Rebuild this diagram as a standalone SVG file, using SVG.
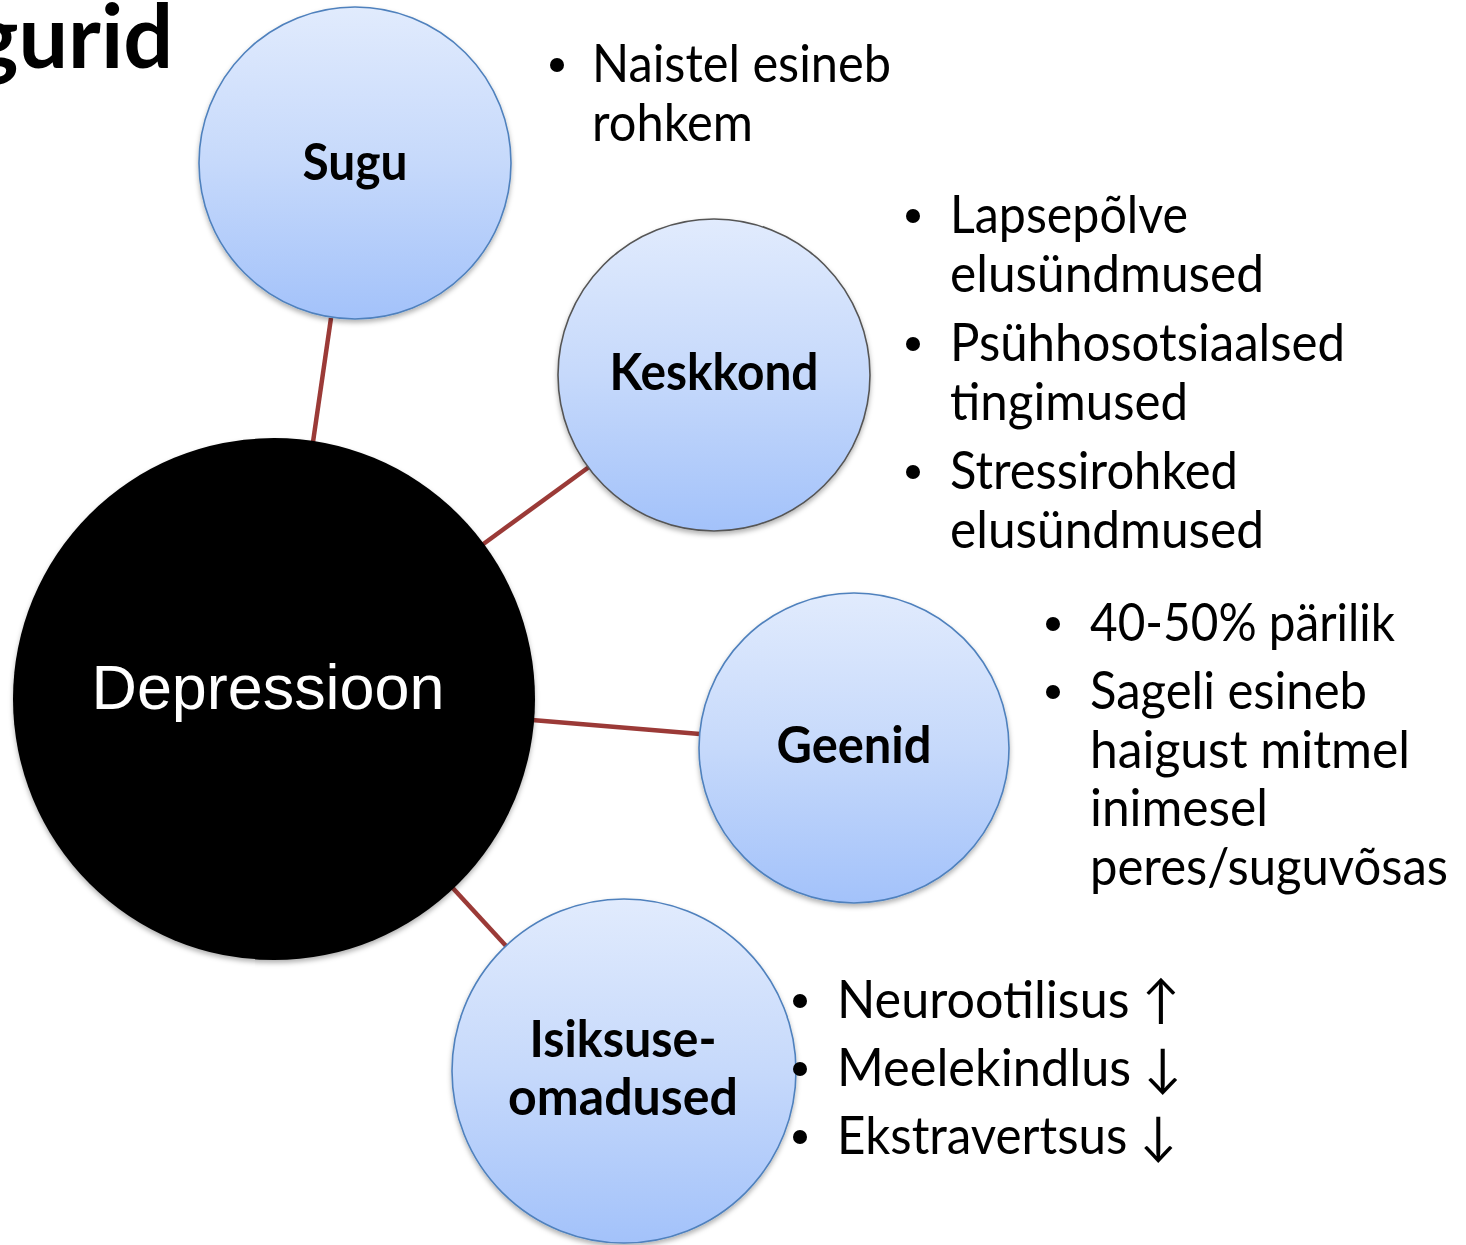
<svg xmlns="http://www.w3.org/2000/svg" width="1466" height="1245" viewBox="0 0 1466 1245">
<defs>
<linearGradient id="blueGrad" x1="0" y1="0" x2="0" y2="1">
<stop offset="0" stop-color="#E1EBFD"/>
<stop offset="0.5" stop-color="#C6D9FB"/>
<stop offset="1" stop-color="#A3C2FA"/>
</linearGradient>
<filter id="shadow" x="-10%" y="-10%" width="120%" height="125%">
<feDropShadow dx="0" dy="3" stdDeviation="2.5" flood-color="#000" flood-opacity="0.3"/>
</filter>
</defs>
<style>
.bubble{fill:url(#blueGrad);stroke:#4F81BD;stroke-width:1.6;filter:url(#shadow)}
.label{font-family:Lato,"Open Sans","Liberation Sans",sans-serif;font-weight:bold;font-size:52px;fill:#000;text-anchor:middle}
.item{font-family:Lato,"Open Sans","DejaVu Sans","Liberation Sans",sans-serif;font-size:52px;fill:#000}
.conn{stroke:#9B3A37;stroke-width:4.5;fill:none}
.dot{fill:#000}
</style>
<rect width="1466" height="1245" fill="#fff"/>
<text x="-28" y="68" font-family="Lato,'Open Sans','Liberation Sans',sans-serif" font-weight="bold" font-size="88" fill="#000">gurid</text>
<g id="connectors">
<line class="conn" x1="331" y1="318" x2="313" y2="442"/>
<line class="conn" x1="589" y1="467" x2="482" y2="545"/>
<line class="conn" x1="532" y1="720" x2="700" y2="734"/>
<line class="conn" x1="450" y1="885" x2="507" y2="947"/>
</g>
<g id="node-depressioon">
<circle cx="274" cy="699" r="261" fill="#000" filter="url(#shadow)"/>
<text x="268" y="709" font-family="'Liberation Sans',Arial,sans-serif" font-size="63" fill="#fff" text-anchor="middle" textLength="353" lengthAdjust="spacingAndGlyphs">Depressioon</text>
</g>
<g id="node-sugu">
<circle class="bubble" cx="355" cy="163" r="156"/>
<text class="label" x="355" y="180" textLength="105" lengthAdjust="spacingAndGlyphs">Sugu</text>
</g>
<g id="node-keskkond">
<circle class="bubble" cx="714" cy="375" r="156" style="stroke:#555"/>
<text class="label" x="714" y="390" textLength="209" lengthAdjust="spacingAndGlyphs">Keskkond</text>
</g>
<g id="node-geenid">
<circle class="bubble" cx="854" cy="748" r="155"/>
<text class="label" x="854" y="763" textLength="155" lengthAdjust="spacingAndGlyphs">Geenid</text>
</g>
<g id="node-isiksuse">
<circle class="bubble" cx="624" cy="1071" r="172"/>
<text class="label" x="623" y="1057" textLength="187" lengthAdjust="spacingAndGlyphs">Isiksuse-</text>
<text class="label" x="623" y="1115" textLength="230" lengthAdjust="spacingAndGlyphs">omadused</text>
</g>
<g id="list-sugu">
<circle class="dot" cx="557" cy="65" r="7"/>
<text class="item" x="592" y="82" textLength="299" lengthAdjust="spacingAndGlyphs">Naistel esineb</text>
<text class="item" x="592" y="141" textLength="161" lengthAdjust="spacingAndGlyphs">rohkem</text>
</g>
<g id="list-keskkond">
<circle class="dot" cx="913" cy="216" r="7"/>
<text class="item" x="950" y="233" textLength="238" lengthAdjust="spacingAndGlyphs">Lapsepõlve</text>
<text class="item" x="950" y="292" textLength="314" lengthAdjust="spacingAndGlyphs">elusündmused</text>
<circle class="dot" cx="913" cy="344" r="7"/>
<text class="item" x="950" y="361" textLength="395" lengthAdjust="spacingAndGlyphs">Psühhosotsiaalsed</text>
<text class="item" x="950" y="420" textLength="238" lengthAdjust="spacingAndGlyphs">tingimused</text>
<circle class="dot" cx="913" cy="472" r="7"/>
<text class="item" x="950" y="489" textLength="288" lengthAdjust="spacingAndGlyphs">Stressirohked</text>
<text class="item" x="950" y="548" textLength="314" lengthAdjust="spacingAndGlyphs">elusündmused</text>
</g>
<g id="list-geenid">
<circle class="dot" cx="1053" cy="624" r="7"/>
<text class="item" x="1090" y="641" textLength="305" lengthAdjust="spacingAndGlyphs">40-50% pärilik</text>
<circle class="dot" cx="1053" cy="692" r="7"/>
<text class="item" x="1090" y="709" textLength="277" lengthAdjust="spacingAndGlyphs">Sageli esineb</text>
<text class="item" x="1090" y="768" textLength="320" lengthAdjust="spacingAndGlyphs">haigust mitmel</text>
<text class="item" x="1090" y="826" textLength="178" lengthAdjust="spacingAndGlyphs">inimesel</text>
<text class="item" x="1090" y="885" textLength="358" lengthAdjust="spacingAndGlyphs">peres/suguvõsas</text>
</g>
<g id="list-isiksuse">
<circle class="dot" cx="800" cy="1001" r="7"/>
<text class="item" x="837" y="1018" textLength="343" lengthAdjust="spacingAndGlyphs">Neurootilisus ↑</text>
<circle class="dot" cx="800" cy="1069" r="7"/>
<text class="item" x="837" y="1086" textLength="345" lengthAdjust="spacingAndGlyphs">Meelekindlus ↓</text>
<circle class="dot" cx="800" cy="1137" r="7"/>
<text class="item" x="837" y="1154" textLength="340" lengthAdjust="spacingAndGlyphs">Ekstravertsus ↓</text>
</g>
</svg>
